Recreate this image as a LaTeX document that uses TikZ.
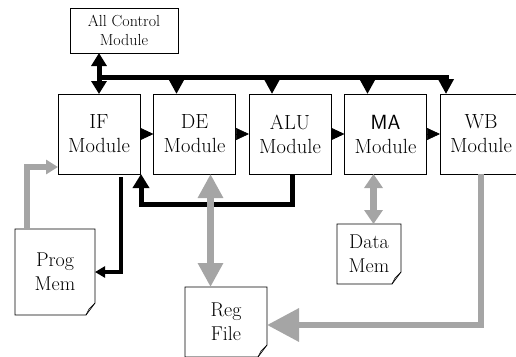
\documentclass[tikz,border=0pt]{standalone}
\usepackage{xcolor}
\usepackage{tikz}
\usetikzlibrary{arrows.meta, positioning, calc}
\definecolor{memgray}{RGB}{165,165,165}
\tikzset{every node/.append style={align=center}}
\tikzset{
  mod/.style={rectangle, draw, line width=0.7pt, minimum width=82pt, minimum height=80pt,
    outer sep=0pt, font=\fontsize{20.5}{24}\selectfont, text centered},
  ctl/.style={rectangle, draw, line width=0.7pt, minimum width=108pt, minimum height=45pt,
    outer sep=0pt, font=\fontsize{16}{18.5}\selectfont, text centered},
  doc/.style={rectangle, outer sep=0pt, font=\fontsize{20}{24}\selectfont, text centered},
  bus/.style={line width=5pt, black},
  flow/.style={-{Triangle[width=12pt,length=13pt]}, line width=0.7pt},
  mem/.style={line width=6.5pt, memgray}
}
% outline of a sheet with a folded corner
\newcommand{\docfold}[1]{%
  \draw[line width=0.7pt] (#1.north west) -- (#1.north east) -- ([yshift=12pt]#1.south east)
    -- ([xshift=-9pt]#1.south east) -- (#1.south west) -- cycle;
  \draw[line width=0.6pt] ([yshift=12pt]#1.south east) -- ([xshift=-6pt,yshift=6pt]#1.south east)
    -- ([xshift=-9pt]#1.south east);}
\begin{document}
\begin{tikzpicture}[x=1pt, y=-1pt, node distance=13.5pt]
  \useasboundingbox (0,0) rectangle (516,356);
  \node[ctl] (ctrl) at (124,30.5) {All Control\\Module};
  \node[mod] (IF) at (99,134) {IF\\Module};
  \node[mod, right=of IF] (DE) {DE\\Module};
  \node[mod, right=of DE] (ALU) {ALU\\Module};
  \node[mod, right=of ALU] (MA) {{\sffamily MA}\\Module};
  \node[mod, right=of MA] (WB) {WB\\Module};
  \node[doc, minimum width=80pt, minimum height=86pt] (pm) at (55,272) {Prog\\Mem};
  \node[doc, minimum width=64pt, minimum height=60pt] (dm) at (369,254) {Data\\Mem};
  \node[doc, minimum width=82pt, minimum height=70pt] (rf) at (226,322) {Reg\\File};
  \docfold{pm} \docfold{dm} \docfold{rf}
  % control bus
  \coordinate (bl) at (99,77);
  \coordinate (br) at ([xshift=6pt]WB.north west |- bl);
  \draw[bus, {Triangle[width=15pt,length=13pt]}-{Triangle[width=15pt,length=13pt]}] (ctrl.south -| bl) -- (IF.north);
  \draw[bus, -{Triangle[width=15pt,length=15pt]}] (bl) -- (br) -- (br |- WB.north);
  \foreach \m in {DE, ALU, MA}
    \draw[bus, -{Triangle[width=15pt,length=15pt]}] ([xshift=-18pt]\m.north |- bl) -- ([xshift=-18pt]\m.north);
  % pipeline
  \draw[flow] (IF) -- (DE);
  \draw[flow] (DE) -- (ALU);
  \draw[flow] (ALU) -- (MA);
  \draw[flow] (MA) -- (WB);
  % feedback and program memory
  \coordinate (fb) at (0,204);
  \draw[bus, -{Triangle[width=16pt,length=14pt]}] ([xshift=2pt]ALU.south) -- ([xshift=2pt]ALU.south |- fb)
    -- ([xshift=1pt]IF.south east |- fb) -- ([xshift=1pt]IF.south east);
  \draw[line width=3.5pt, -{Triangle[width=11pt,length=10pt]}] ([xshift=22pt,yshift=-3pt]IF.south) |- (pm.east);
  % memory paths
  \draw[mem, -{Triangle[width=14pt,length=12pt]}] ([xshift=-28pt]pm.north) |- ([yshift=7pt]IF.south west);
  \draw[mem, {Triangle[width=24pt,length=24pt]}-{Triangle[width=24pt,length=24pt]}]
    ([xshift=16pt]DE.south) -- ([xshift=16pt]DE.south |- rf.north);
  \draw[mem, {Triangle[width=18pt,length=14pt]}-{Triangle[width=18pt,length=14pt]}]
    ([xshift=-12pt]MA.south) -- ([xshift=-12pt]MA.south |- dm.north);
  \draw[mem, -{Triangle[width=32pt,length=32pt]}] (WB.south) |- ([yshift=-3pt]rf.east);
\end{tikzpicture}
\end{document}
